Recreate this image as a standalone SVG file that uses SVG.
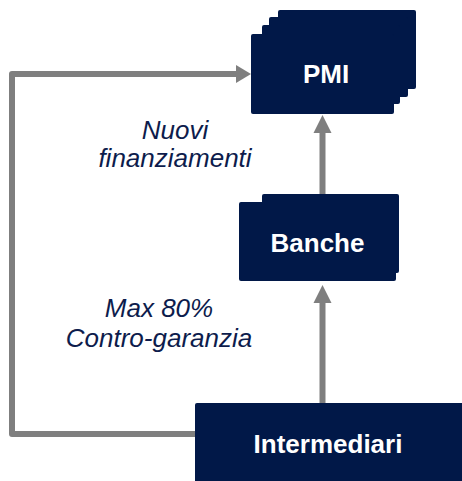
<svg xmlns="http://www.w3.org/2000/svg" width="462" height="481" viewBox="0 0 462 481">
<style>
.box{fill:#011848}
.lbl{font-family:"Liberation Sans",Arial,sans-serif;font-weight:bold;font-size:21px;fill:#ffffff;text-anchor:middle}
.it{font-family:"Liberation Sans",Arial,sans-serif;font-style:italic;font-size:21px;fill:#0d1c4c;text-anchor:middle}
.con{fill:none;stroke:#7f7f7f;stroke-width:6;stroke-linejoin:round}
.head{fill:#7f7f7f}
</style>
<rect width="462" height="481" fill="#ffffff"/>
<g id="connectors">
<path class="con" d="M196,434 L12,434 L12,74 L237,74"/>
<polygon class="head" points="236,65 251,74 236,83"/>
<line class="con" x1="322.5" y1="404" x2="322.5" y2="302"/>
<polygon class="head" points="313.5,303 322.5,285 331.5,303"/>
<line class="con" x1="322.5" y1="196" x2="322.5" y2="132"/>
<polygon class="head" points="313.5,133 322.5,115 331.5,133"/>
</g>
<g id="pmi">
<rect class="box" x="278" y="10" width="138" height="79" rx="2"/>
<rect class="box" x="269" y="17" width="139" height="80" rx="2"/>
<rect class="box" x="262" y="25" width="138" height="79" rx="2"/>
<rect class="box" x="251" y="34" width="143" height="80" rx="2"/>
<text class="lbl" x="326" y="83" style="font-size:26px">PMI</text>
</g>
<g id="banche">
<rect class="box" x="262" y="194" width="137" height="79" rx="2"/>
<rect class="box" x="239" y="202" width="157" height="79" rx="2"/>
<text class="lbl" x="317.5" y="252" style="font-size:26px">Banche</text>
</g>
<g id="intermediari">
<rect class="box" x="195" y="403" width="280" height="90" rx="2"/>
<text class="lbl" x="328" y="453" style="font-size:26px">Intermediari</text>
</g>
<g id="labels">
<text class="it" x="175" y="139" style="font-size:26px">Nuovi</text>
<text class="it" x="175" y="167" style="font-size:26px">finanziamenti</text>
<text class="it" x="159" y="317" style="font-size:26px">Max 80%</text>
<text class="it" x="159" y="347" style="font-size:26px">Contro-garanzia</text>
</g>
</svg>
